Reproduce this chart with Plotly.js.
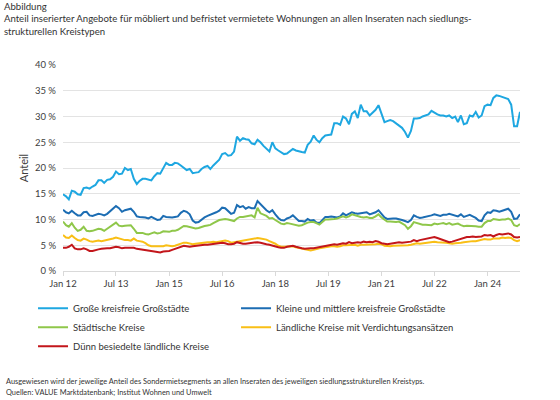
<!DOCTYPE html>
<html><head><meta charset="utf-8">
<script src="https://cdn.plot.ly/plotly-3.0.1.min.js"></script>
<style>html,body{margin:0;padding:0;background:#fff}#chart{width:560px;height:400px}</style>
</head><body><div id="chart"></div>
<script>
// Monthly observations, Jan 2012 .. Dec 2024
const firstYear = 2012;
const monthCount = 156;
const months = [];
for (let i = 0; i < monthCount; i++) {
  const y = firstYear + Math.floor(i / 12), m = (i % 12) + 1;
  months.push(y + '-' + String(m).padStart(2, '0') + '-01');
}

const seriesNames = [
  'Große kreisfreie Großstädte',
  'Kleine und mittlere kreisfreie Großstädte',
  'Städtische Kreise',
  'Ländliche Kreise mit Verdichtungsansätzen',
  'Dünn besiedelte ländliche Kreise'
];

const grosseGrossstaedte = [
  14.9,14.5,13.9,15.6,15.4,14.9,14.8,16.1,16.2,16.0,
  16.4,16.7,17.6,17.6,17.1,17.7,17.8,18.3,19.3,18.8,
  18.9,20.0,19.6,19.8,17.9,16.9,17.5,17.9,17.9,17.7,
  17.6,18.4,19.0,18.9,20.0,21.0,20.6,20.6,21.0,20.9,
  20.5,20.0,19.6,19.8,19.0,19.1,19.2,19.8,20.2,20.4,
  19.8,20.5,21.1,21.6,22.7,22.9,22.4,22.5,23.2,26.1,
  25.3,25.8,25.6,25.5,24.8,24.6,25.5,25.0,24.3,23.7,
  23.2,25.0,23.8,23.4,23.0,22.7,22.8,23.2,23.7,23.4,
  23.2,23.1,23.0,24.5,25.1,26.3,25.5,25.0,25.8,26.3,
  26.4,26.5,28.7,28.7,28.4,30.0,29.6,28.5,30.5,31.0,
  29.7,32.3,31.0,31.0,30.2,30.7,31.3,32.2,30.4,28.9,
  29.1,29.3,29.1,28.6,28.2,27.8,27.0,25.9,27.2,29.6,
  29.6,29.7,30.0,30.2,30.4,31.1,30.7,30.4,30.2,30.2,
  30.0,30.2,29.7,30.0,28.9,30.2,28.5,28.7,30.2,30.0,
  30.9,29.8,30.2,32.0,32.3,32.2,33.6,34.1,34.0,33.8,
  33.6,33.4,32.3,28.1,28.1,30.9
];

const kleineGrossstaedte = [
  11.9,11.4,11.2,11.7,11.2,10.8,10.8,11.4,11.5,10.8,
  10.7,10.9,11.1,11.0,10.8,11.1,11.6,12.2,12.6,12.2,
  11.5,11.8,11.9,12.1,11.5,10.6,10.5,10.5,10.4,10.2,
  10.5,10.2,9.9,10.0,10.7,10.5,10.4,10.4,10.5,10.6,
  11.3,11.7,11.5,11.0,9.8,9.4,9.5,10.0,10.4,10.7,
  10.9,11.2,11.4,11.7,12.3,12.2,11.6,11.1,11.3,12.8,
  12.4,12.6,12.1,12.4,12.2,12.2,13.6,13.0,12.2,11.8,
  11.4,11.8,11.0,10.3,9.9,9.8,10.2,10.4,10.8,10.2,
  9.7,9.7,9.6,10.1,9.8,9.9,9.4,9.3,9.9,10.5,
  10.5,10.6,10.5,10.4,10.6,11.2,10.8,11.2,11.4,11.2,
  11.1,11.2,11.3,11.4,11.0,11.2,11.4,11.8,11.1,10.4,
  10.1,10.2,10.2,10.2,10.1,9.9,9.7,9.5,9.9,10.8,
  10.5,10.3,10.4,10.5,10.7,10.8,11.0,10.9,10.7,10.9,
  10.9,11.1,10.9,10.7,10.6,11.0,10.5,10.7,10.9,10.6,
  10.3,9.8,9.7,10.8,11.4,11.3,11.8,11.7,11.5,11.7,
  11.9,12.1,11.5,10.1,10.2,11.0
];

const staedtischeKreise = [
  9.6,8.9,8.6,9.3,8.4,7.8,8.0,8.6,7.8,7.7,
  7.8,8.0,8.2,8.1,7.8,8.2,8.6,9.1,9.4,8.8,
  8.7,8.8,8.8,8.9,8.2,7.4,7.4,7.4,7.2,7.1,
  7.3,7.5,7.3,7.4,7.7,7.6,7.6,7.8,7.8,8.0,
  8.4,8.75,8.7,8.55,8.4,8.25,8.35,8.6,8.75,8.85,
  8.95,9.3,9.6,9.9,10.0,10.1,10.0,9.8,9.7,10.2,
  10.5,10.5,10.6,10.6,10.8,10.4,12.3,11.2,10.9,10.7,
  10.2,10.3,9.9,9.5,9.2,9.1,9.3,9.2,9.1,9.0,
  8.8,8.9,9.2,9.4,9.5,9.5,9.3,9.0,9.5,10.0,
  10.0,10.0,10.1,10.2,10.4,10.6,10.4,10.6,11.0,10.8,
  10.7,10.5,10.4,10.5,10.3,10.3,10.6,11.0,10.4,9.9,
  9.6,9.6,9.5,9.5,9.6,9.3,8.9,8.2,8.7,9.5,
  9.3,9.1,9.0,9.0,9.0,8.9,9.2,9.1,9.2,9.3,
  9.1,9.3,9.0,9.1,9.2,8.9,8.7,8.8,8.8,8.8,
  8.7,8.6,8.6,9.3,9.7,9.7,10.1,10.0,9.9,10.0,
  10.0,10.2,9.9,8.9,8.7,9.1
];

const laendlicheVerdichtung = [
  7.0,6.5,6.4,6.9,6.4,6.0,5.9,6.3,6.1,5.8,
  5.7,5.8,5.9,5.8,5.9,6.1,6.2,6.3,6.5,6.3,
  6.1,6.0,6.0,5.9,6.3,5.9,5.8,5.7,5.4,5.0,
  4.8,4.8,4.9,4.9,4.8,5.0,4.9,4.8,4.9,5.1,
  5.3,5.5,5.5,5.3,5.2,5.3,5.4,5.4,5.5,5.6,
  5.6,5.7,5.6,5.7,5.8,5.9,5.8,5.5,5.6,5.7,
  5.8,5.8,5.9,6.0,6.1,6.3,6.4,6.3,6.2,6.1,
  5.8,5.6,5.3,4.9,4.7,4.7,4.7,4.8,4.8,4.6,
  4.5,4.4,4.3,4.2,4.0,4.1,4.3,4.4,4.5,4.6,
  4.8,4.8,4.8,4.7,4.8,5.0,5.0,5.0,5.1,5.1,
  4.9,5.1,5.1,5.1,5.1,5.1,5.2,5.3,5.2,4.9,
  4.8,4.8,4.9,4.9,4.9,5.0,4.9,5.0,5.1,5.3,
  5.4,5.3,5.4,5.5,5.6,5.7,5.7,5.6,5.6,5.5,
  5.5,5.4,5.3,5.4,5.4,5.5,5.6,5.7,5.7,5.8,
  5.8,5.9,6.0,6.2,6.1,6.1,6.3,6.3,6.3,6.5,
  6.4,6.5,6.4,6.0,5.8,6.0
];

const duennBesiedelt = [
  4.5,4.5,4.7,5.1,4.4,4.2,4.2,4.4,4.2,3.9,
  3.9,4.1,4.2,4.3,4.4,4.4,4.4,4.5,4.7,4.6,
  4.4,4.5,4.5,4.4,4.5,4.3,4.2,4.2,4.1,3.9,
  3.9,3.8,3.7,3.6,3.8,3.8,3.9,4.1,4.3,4.6,
  4.8,4.9,4.8,4.7,4.8,4.9,4.9,5.0,5.1,5.1,
  5.2,5.3,5.3,5.4,5.5,5.4,5.2,5.2,5.3,5.6,
  5.4,5.3,5.3,5.4,5.5,5.6,5.6,5.5,5.3,5.2,
  5.1,4.9,4.8,4.6,4.5,4.5,4.7,4.8,4.9,4.7,
  4.5,4.4,4.3,4.4,4.4,4.4,4.5,4.7,4.8,4.9,
  5.0,5.1,5.2,5.1,5.2,5.4,5.3,5.6,5.4,5.5,
  5.6,5.5,5.7,5.6,5.7,5.6,5.8,5.7,5.4,5.3,
  5.2,5.3,5.4,5.5,5.6,5.5,5.6,5.6,5.7,6.0,
  5.8,6.0,6.1,6.2,6.3,6.5,6.6,6.4,6.2,6.0,
  5.8,5.6,5.7,5.9,6.0,6.2,6.5,6.6,6.6,6.7,
  6.6,6.7,6.7,7.0,6.9,7.0,6.7,7.0,7.2,7.1,
  7.2,7.3,7.1,6.6,6.5,6.6
];

const seriesValues = [grosseGrossstaedte, kleineGrossstaedte, staedtischeKreise, laendlicheVerdichtung, duennBesiedelt];
const seriesColors = ['#1ea7e1', '#1c6db3', '#8fc74a', '#f9bf16', '#c3161b'];
// left legend column: series 0, 2, 4; right legend column: series 1, 3
const legendColumn = ['legend', 'legend2', 'legend', 'legend2', 'legend'];

const traces = seriesValues.map((vals, i) => ({
  type: 'scatter', mode: 'lines', x: months, y: vals, name: seriesNames[i],
  legend: legendColumn[i],
  line: {color: seriesColors[i], width: 2}
}));

const footerLines = [
  'Ausgewiesen wird der jeweilige Anteil des Sondermietsegments an allen Inseraten des jeweiligen siedlungsstrukturellen Kreistyps.',
  'Quellen: VALUE Marktdatenbank; Institut Wohnen und Umwelt'
];

const legendStyle = {
  orientation: 'v', xanchor: 'left', yanchor: 'top', y: -0.111,
  font: {size: 9.5, color: '#333'}, bgcolor: 'rgba(0,0,0,0)', tracegroupgap: 0
};

const layout = {
  width: 560, height: 400,
  margin: {l: 63, r: 40, t: 65, b: 129},
  paper_bgcolor: '#fff', plot_bgcolor: '#fff',
  font: {family: 'Lato, "Open Sans", sans-serif', size: 9.5, color: '#404040'},
  title: {
    text: 'Abbildung<br>Anteil inserierter Angebote für möbliert und befristet vermietete Wohnungen an allen Inseraten nach siedlungs-<br>strukturellen Kreistypen',
    x: 0.007, xanchor: 'left', xref: 'container', y: 0.975, yanchor: 'top', yref: 'container',
    font: {size: 9.6, color: '#333'}
  },
  xaxis: {
    type: 'date', range: ['2012-01-01', '2024-12-01'], tick0: '2012-01-01', dtick: 'M18',
    tickformat: '%b %y', ticks: 'outside', ticklen: 4, tickcolor: '#d9d9d9',
    showline: true, linecolor: '#d9d9d9', showgrid: false, zeroline: false
  },
  yaxis: {
    range: [0, 40], dtick: 5, ticksuffix: ' %', showgrid: true, gridcolor: '#e3e3e3',
    zeroline: false, showline: false, ticks: '', ticklabelstandoff: 6,
    title: {text: 'Anteil', standoff: 4}
  },
  legend: Object.assign({}, legendStyle, {x: -0.0656}),
  legend2: Object.assign({}, legendStyle, {x: 0.3786}),
  showlegend: true,
  annotations: footerLines.map((t, i) => ({
    text: t, xref: 'paper', yref: 'paper', x: -0.129, y: [-0.534, -0.592][i],
    xanchor: 'left', yanchor: 'middle', showarrow: false, font: {size: 7.4, color: '#333'}
  }))
};

Plotly.newPlot('chart', traces, layout, {displayModeBar: false, staticPlot: true});
</script></body></html>
